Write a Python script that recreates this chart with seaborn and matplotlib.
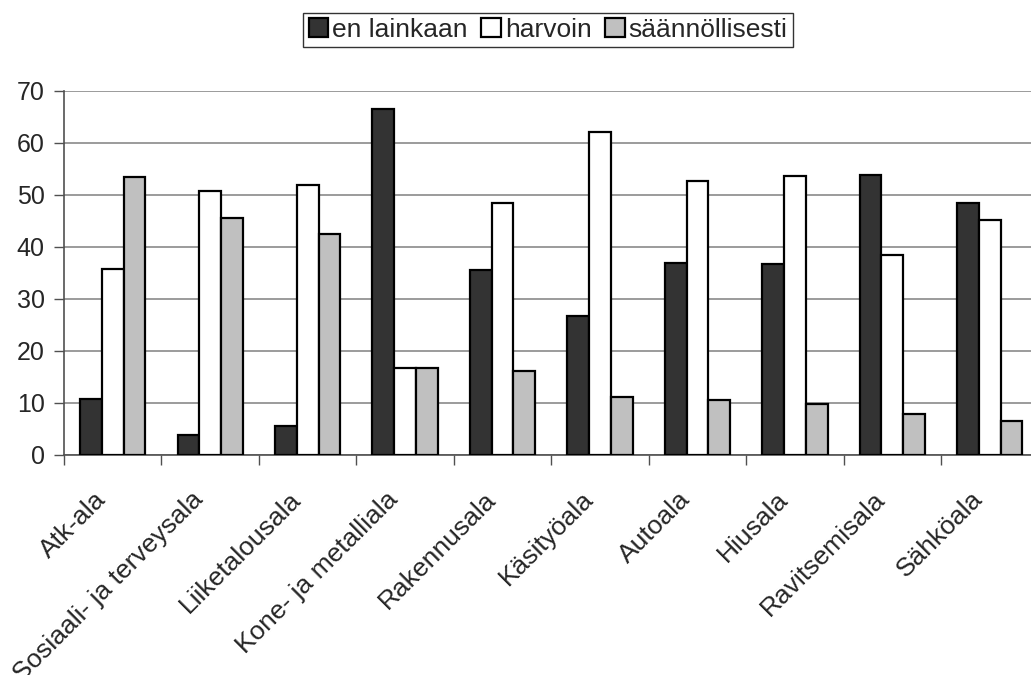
"""
Pylväskaavio: kuinka usein alalla käytetään (en lainkaan / harvoin / säännöllisesti)
"""

import numpy as np
import pandas as pd
import matplotlib
matplotlib.use('Agg')
import matplotlib.pyplot as plt
import matplotlib.transforms as mtransforms
import seaborn as sns

# Data
alat = ['Atk-ala', 'Sosiaali- ja terveysala', 'Liiketalousala', 'Kone- ja metalliala',
        'Rakennusala', 'Käsityöala', 'Autoala', 'Hiusala', 'Ravitsemisala', 'Sähköala']
sarjat = ['en lainkaan', 'harvoin', 'säännöllisesti']
en_lainkaan = [10.8, 3.8, 5.6, 66.6, 35.5, 26.7, 36.9, 36.7, 53.8, 48.4]
harvoin = [35.8, 50.8, 52.0, 16.8, 48.4, 62.2, 52.7, 53.7, 38.5, 45.2]
saannollisesti = [53.5, 45.6, 42.5, 16.8, 16.2, 11.2, 10.6, 9.9, 7.9, 6.6]
y_ticks = [0, 10, 20, 30, 40, 50, 60, 70]
varit = ['#333333', '#ffffff', '#c0c0c0']

df = pd.DataFrame({
    'ala': alat * 3,
    'sarja': np.repeat(sarjat, len(alat)),
    'arvo': en_lainkaan + harvoin + saannollisesti,
})

sns.set_style('white')
plt.rcParams['font.family'] = ['Liberation Sans', 'DejaVu Sans']

fig = plt.figure(figsize=(10.31, 6.75), dpi=100)
ax = fig.add_axes([64 / 1031, 220 / 675, 974.5 / 1031, 364 / 675])

sns.barplot(data=df, x='ala', y='arvo', hue='sarja', order=alat, hue_order=sarjat,
            palette=varit, width=0.67, gap=0, edgecolor='black', linewidth=1.6,
            saturation=1, ax=ax, zorder=3)

# Akselit
ax.set_xlim(-0.5, len(alat) - 0.5)
ax.set_ylim(0, 70)
ax.set_yticks(y_ticks)
ax.set_yticklabels([str(t) for t in y_ticks], fontsize=18)
ax.grid(axis='y', color='#808080', linewidth=1.1, zorder=0)
ax.set_axisbelow(True)
for s in ['top', 'right']:
    ax.spines[s].set_visible(False)
for s in ['left', 'bottom']:
    ax.spines[s].set_color('#505050')
    ax.spines[s].set_linewidth(1.2)
ax.tick_params(axis='y', which='major', direction='out', length=7, width=1,
               color='#505050', pad=7, left=True)
ax.set_xticks(np.arange(len(alat)))
ax.set_xticks(np.arange(len(alat) + 1) - 0.5, minor=True)
ax.tick_params(axis='x', which='major', length=0, pad=23)
ax.tick_params(axis='x', which='minor', direction='out', length=7, width=1,
               color='#505050', bottom=True)
ax.set_xticklabels(alat, rotation=45, ha='right', va='top', rotation_mode='anchor',
                   fontsize=19)
siirto = mtransforms.ScaledTranslation(-19 / 100, 0, fig.dpi_scale_trans)
for lbl in ax.get_xticklabels():
    lbl.set_transform(lbl.get_transform() + siirto)
ax.set_xlabel('')
ax.set_ylabel('')

# Selite
handles, labels = ax.get_legend_handles_labels()
ax.legend(handles, labels, loc='center', bbox_to_anchor=(548 / 1031, 1 - 30 / 675),
          bbox_transform=fig.transFigure, ncol=3, frameon=True, fancybox=False,
          shadow=False, edgecolor='black', fontsize=19, handlelength=0.75,
          handleheight=0.75, handletextpad=0.15, columnspacing=0.5,
          borderpad=0.2, borderaxespad=0)
ax.get_legend().get_frame().set_linewidth(1.0)

plt.savefig('out.png', dpi=100)
